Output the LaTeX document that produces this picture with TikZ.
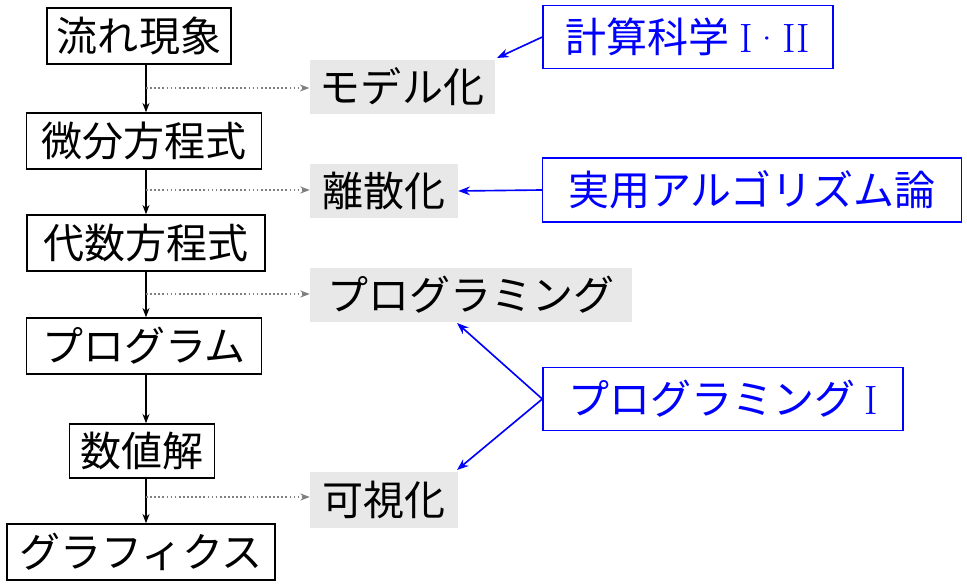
\documentclass[tikz,border=0pt]{standalone}
\usepackage{fontspec}
\setmainfont{Noto Sans CJK JP}
\newfontfamily\lmr{Latin Modern Roman}
\usetikzlibrary{arrows.meta}
\begin{document}
\begin{tikzpicture}[x=0.03cm,y=-0.03cm,
  every node/.style={font=\fontsize{35}{40}\selectfont, inner sep=0pt, anchor=center},
  flow/.style={draw, line width=1.2pt, minimum height=56*0.03cm},
  gbox/.style={fill=black!9, minimum height=54*0.03cm},
  bbox/.style={draw=blue, text=blue, line width=1.2pt, minimum height=63*0.03cm},
  varr/.style={-{Stealth[length=8pt]}, line width=1.2pt},
  darr/.style={-{Stealth[length=8pt]}, dotted, line width=1.5pt, gray},
  barr/.style={-{Stealth[length=10pt]}, line width=1.4pt, blue}]
\useasboundingbox (0,0) rectangle (967,587);
\node[flow, minimum width=184*0.03cm] (a) at (139,36) {流れ現象};
\node[flow, minimum width=235*0.03cm] (b) at (144,141) {微分方程式};
\node[flow, minimum width=238*0.03cm] (c) at (146,243) {代数方程式};
\node[flow, minimum width=235*0.03cm] (d) at (144,346) {プログラム};
\node[flow, minimum width=145*0.03cm, minimum height=54*0.03cm] (e) at (142,451) {数値解};
\node[flow, minimum width=268*0.03cm] (f) at (141,552) {グラフィクス};
\foreach \u/\v in {a/b,b/c,c/d,d/e,e/f}
  \draw[varr] (\u.south -| 146,0) -- (\v.north -| 146,0);
\node[gbox, minimum width=185*0.03cm] (g1) at (402,87) {モデル化};
\node[gbox, minimum width=148*0.03cm] (g2) at (384,191) {離散化};
\node[gbox, minimum width=322*0.03cm] (g3) at (471,295) {プログラミング};
\node[gbox, minimum width=148*0.03cm, minimum height=56*0.03cm] (g4) at (384,500) {可視化};
\coordinate (p1) at (146,88); \coordinate (p2) at (146,190);
\coordinate (p3) at (146,294); \coordinate (p4) at (146,497);
\draw[darr] (p1) -- (p1 -| g1.west);
\draw[darr] (p2) -- (p2 -| g2.west);
\draw[darr] (p3) -- (p3 -| g3.west);
\draw[darr] (p4) -- (p4 -| g4.west);
\node[bbox, minimum width=290*0.03cm] (k1) at (688,37) {計算科学 {\lmr I\textperiodcentered II}};
\node[bbox, minimum width=419*0.03cm, minimum height=64*0.03cm] (k2) at (752,190) {実用アルゴリズム論};
\node[bbox, minimum width=360*0.03cm] (k3) at (723,399) {プログラミング {\lmr I}};
\coordinate (t1) at (497,58);
\coordinate (t3) at (457,323);
\coordinate (t4) at (457,470);
\draw[barr] (k1.west) -- (t1);
\draw[barr] (k2.west) -- (g2.east);
\draw[barr] (k3.west) -- (t3);
\draw[barr] (k3.west) -- (t4);
\end{tikzpicture}
\end{document}
